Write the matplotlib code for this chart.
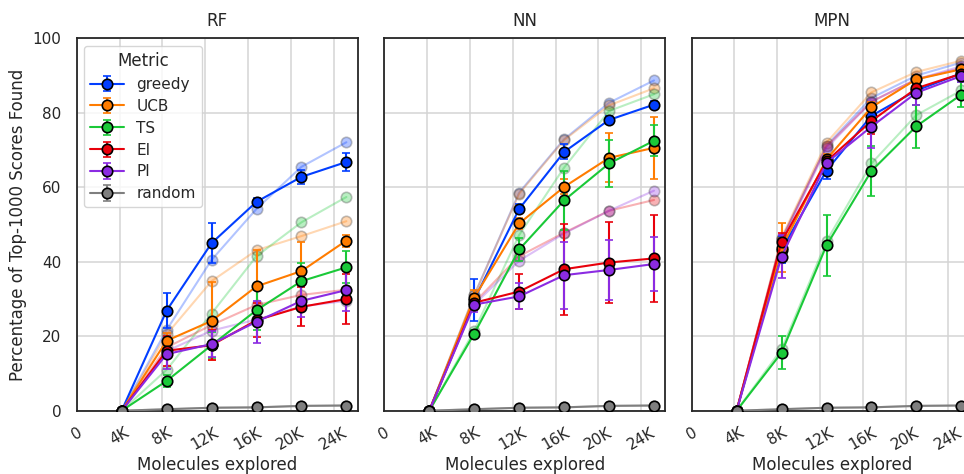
import matplotlib
matplotlib.use("Agg")
import matplotlib.pyplot as plt
import seaborn as sns

sns.set_theme(style="whitegrid", context="notebook")
plt.rcParams["font.family"] = ["DejaVu Sans"]

# Molecules explored after each batch
explored = [4200, 8400, 12600, 16800, 21000, 25200]
tick_values = [0, 4000, 8000, 12000, 16000, 20000, 24000]
tick_labels = ["0", "4K", "8K", "12K", "16K", "20K", "24K"]

metrics = ["greedy", "UCB", "TS", "EI", "PI", "random"]
colors = ["#023eff", "#ff7c00", "#1ac938", "#e8000b", "#8b2be2", "#7f7f7f"]
models = ["RF", "NN", "MPN"]

# Mean percentage of top-1000 scores found
rf_mean = {
    "greedy": [0, 26.9, 45.0, 56.1, 62.8, 66.8],
    "UCB":    [0, 18.8, 24.1, 33.4, 37.5, 45.7],
    "TS":     [0, 8.0, 17.6, 27.0, 34.8, 38.5],
    "EI":     [0, 16.1, 17.6, 24.3, 27.9, 30.0],
    "PI":     [0, 15.2, 17.9, 23.9, 29.5, 32.4],
    "random": [0, 0.4, 0.8, 0.9, 1.3, 1.4],
}
rf_err = {
    "greedy": [0, 4.6, 5.4, 1.0, 1.8, 2.4],
    "UCB":    [0, 2.0, 10.5, 9.7, 7.9, 1.6],
    "TS":     [0, 1.5, 3.5, 5.4, 4.8, 4.3],
    "EI":     [0, 4.0, 4.0, 4.5, 5.2, 6.7],
    "PI":     [0, 4.0, 3.5, 5.6, 4.2, 5.6],
    "random": [0, 0.1, 0.1, 0.1, 0.1, 0.1],
}
rf_prev = {
    "greedy": [0, 21.7, 40.5, 54.2, 65.5, 72.1],
    "UCB":    [0, 20.5, 34.8, 43.1, 46.9, 50.9],
    "TS":     [0, 11.0, 26.1, 41.5, 50.6, 57.4],
    "EI":     [0, 17.0, 23.0, 28.4, 31.1, 32.5],
    "PI":     [0, 16.0, 21.5, 24.5, 28.0, 29.5],
    "random": [0, 0.4, 0.8, 0.9, 1.3, 1.4],
}

nn_mean = {
    "greedy": [0, 29.8, 54.2, 69.5, 78.1, 82.2],
    "UCB":    [0, 30.4, 50.3, 60.1, 67.9, 70.6],
    "TS":     [0, 20.7, 43.3, 56.5, 66.4, 72.5],
    "EI":     [0, 29.0, 32.0, 38.0, 39.8, 40.9],
    "PI":     [0, 28.5, 30.7, 36.4, 37.8, 39.4],
    "random": [0, 0.4, 0.8, 0.9, 1.3, 1.4],
}
nn_err = {
    "greedy": [0, 5.6, 1.2, 2.0, 1.0, 1.0],
    "UCB":    [0, 2.0, 1.5, 2.0, 6.6, 8.4],
    "TS":     [0, 1.0, 3.0, 8.0, 6.2, 4.1],
    "EI":     [0, 2.0, 4.8, 12.2, 10.8, 11.7],
    "PI":     [0, 2.0, 3.5, 9.0, 8.0, 7.2],
    "random": [0, 0.1, 0.1, 0.1, 0.1, 0.1],
}
nn_prev = {
    "greedy": [0, 31.0, 58.6, 72.9, 82.7, 88.7],
    "UCB":    [0, 31.0, 58.3, 72.7, 82.0, 86.6],
    "TS":     [0, 21.5, 47.2, 65.3, 80.5, 85.0],
    "EI":     [0, 29.0, 41.5, 47.8, 53.7, 56.6],
    "PI":     [0, 28.5, 40.3, 47.6, 53.7, 59.1],
    "random": [0, 0.4, 0.8, 0.9, 1.3, 1.4],
}

mpn_mean = {
    "greedy": [0, 43.2, 64.5, 79.2, 86.0, 90.6],
    "UCB":    [0, 43.8, 67.5, 81.5, 89.0, 91.7],
    "TS":     [0, 15.6, 44.4, 64.4, 76.4, 84.9],
    "EI":     [0, 45.4, 67.0, 77.8, 86.6, 90.5],
    "PI":     [0, 41.4, 66.6, 76.3, 85.4, 89.9],
    "random": [0, 0.4, 0.8, 0.9, 1.3, 1.4],
}
mpn_err = {
    "greedy": [0, 3.6, 2.3, 1.5, 1.5, 1.5],
    "UCB":    [0, 6.5, 1.5, 1.5, 1.2, 1.0],
    "TS":     [0, 4.4, 8.1, 6.7, 5.8, 3.3],
    "EI":     [0, 2.4, 1.5, 3.6, 1.5, 1.0],
    "PI":     [0, 5.7, 1.5, 5.7, 3.3, 1.5],
    "random": [0, 0.1, 0.1, 0.1, 0.1, 0.1],
}
mpn_prev = {
    "greedy": [0, 46.0, 71.2, 84.0, 90.0, 93.5],
    "UCB":    [0, 46.5, 72.0, 85.5, 91.0, 94.0],
    "TS":     [0, 16.5, 45.5, 66.4, 79.4, 86.0],
    "EI":     [0, 46.0, 71.0, 83.0, 89.0, 92.0],
    "PI":     [0, 45.5, 70.5, 83.0, 89.0, 92.5],
    "random": [0, 0.4, 0.8, 0.9, 1.3, 1.4],
}

panels = [(rf_mean, rf_err, rf_prev), (nn_mean, nn_err, nn_prev),
          (mpn_mean, mpn_err, mpn_prev)]

fig = plt.figure(figsize=(9.64, 4.74), dpi=100)
ax_w, ax_h, ax_b = 0.2915, 0.7856, 0.1335
lefts = [0.0796, 0.3987, 0.7175]
axes = [fig.add_axes([l, ax_b, ax_w, ax_h]) for l in lefts]

text_color = "#262626"
for ax, model, (mean, err, prev) in zip(axes, models, panels):
    # earlier run, drawn faintly underneath
    for m, c in zip(metrics, colors):
        ax.plot(explored, prev[m], color=c, lw=1.5, marker="o", ms=7.5,
                mfc=c, mec="#333333", mew=1.2, alpha=0.3, zorder=2)
    for m, c in zip(metrics, colors):
        ax.errorbar(explored, mean[m], yerr=err[m], color=c, lw=1.5,
                    marker="o", ms=7.5, mfc=c, mec="black", mew=1.2,
                    capsize=3, capthick=1.5, elinewidth=1.5, label=m,
                    zorder=3)
    ax.set_xlim(0, 26260)
    ax.set_ylim(0, 100)
    ax.set_xticks(tick_values)
    ax.set_xticklabels(tick_labels, rotation=30, ha="center")
    ax.set_yticks([0, 20, 40, 60, 80, 100])
    ax.set_title(model, fontsize=12, color=text_color, pad=9)
    ax.set_xlabel("Molecules explored", fontsize=12, color=text_color,
                  labelpad=3)
    ax.tick_params(axis="x", labelsize=11, colors=text_color, length=0,
                   pad=10)
    ax.tick_params(axis="y", labelsize=11, colors=text_color, length=0,
                   pad=11)
    ax.grid(True, color="#d4d4d4", lw=1.1)
    for s in ax.spines.values():
        s.set_color("#262626")
        s.set_linewidth(1.3)
    if ax is not axes[0]:
        ax.set_yticklabels([])

axes[0].set_ylabel("Percentage of Top-1000 Scores Found", fontsize=12,
                   color=text_color, labelpad=4)
leg = axes[0].legend(title="Metric", loc="upper left", fontsize=11,
                     title_fontsize=12, frameon=True, borderpad=0.4,
                     handlelength=2.2, labelspacing=0.45)
leg.get_frame().set_edgecolor("#cccccc")

fig.savefig("out.png", dpi=100)
